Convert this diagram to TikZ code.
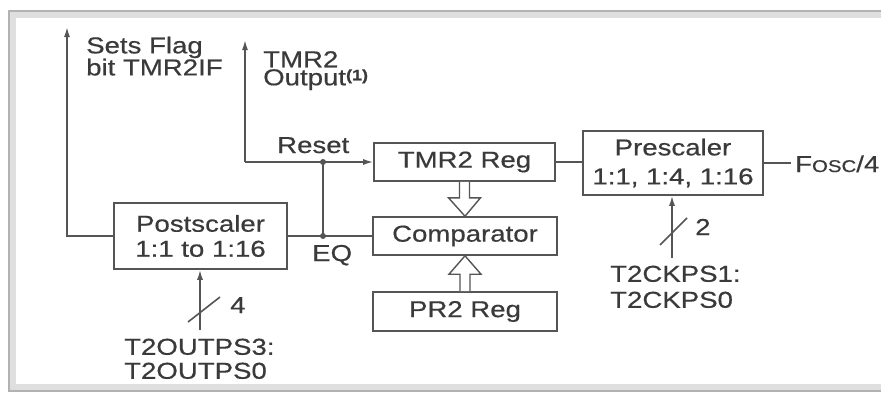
\documentclass[tikz,border=0pt]{standalone}
\usepackage{fontspec}
\setmainfont{Liberation Sans}[FakeStretch=1.2,FakeBold=0.5]
\usetikzlibrary{arrows.meta,calc}
\definecolor{ln}{HTML}{555555}
\definecolor{tx}{HTML}{3A3A3A}
\begin{document}
\begin{tikzpicture}[x=1pt,y=-1pt,
  every node/.style={text=tx, font=\fontsize{23}{25}\selectfont},
  blk/.style={draw=ln, line width=1.6pt, inner sep=0pt, align=center},
  lbl/.style={anchor=north west, inner sep=0pt, align=left},
  bl/.style={anchor=base west, inner sep=0pt},
  wire/.style={draw=ln, line width=1.6pt},
  arr/.style={wire, -{Latex[length=10pt,width=6pt]}},
  hollow/.style={draw=ln, line width=1.4pt, fill=white, line join=miter}]
\useasboundingbox (0,0) rectangle (881,397);
\fill[white] (0,0) rectangle (881,397);
% frame shadow
\draw[gray!25, line width=6pt] (881,15) -- (13,15) -- (13,387) -- (881,387);
\draw[gray!60, line width=2.5pt] (881,11) -- (9,11) -- (9,391) -- (881,391);
% blocks
\node[blk, minimum width=181pt, minimum height=38pt] (tmr) at (464.5,162) {TMR2 Reg};
\node[blk, minimum width=184pt, minimum height=38pt] (comp) at (465,236) {Comparator};
\node[blk, minimum width=184pt, minimum height=39pt] (pr) at (465,311.5) {PR2 Reg};
\node[blk, minimum width=180pt, minimum height=64pt, font=\fontsize{23}{29}\selectfont] (pre) at (673,163) {Prescaler\\1:1, 1:4, 1:16};
\node[blk, minimum width=173pt, minimum height=66pt, font=\fontsize{23}{25}\selectfont] (post) at (200.5,236) {Postscaler\\1:1 to 1:16};
% labels
\node[lbl, font=\fontsize{23}{22}\selectfont] (flagl) at (86,36.5) {Sets Flag\\bit TMR2IF};
\node[lbl, font=\fontsize{23}{18}\selectfont] (outl) at (263,51) {TMR2\\Output\raisebox{5pt}{\fontsize{15}{15}\selectfont\bfseries (1)}};
\node[lbl, font=\fontsize{23}{24}\selectfont] (outps) at (124,338.5) {T2OUTPS3:\\T2OUTPS0};
\node[lbl, font=\fontsize{23}{26}\selectfont] (ckps) at (610,265.5) {T2CKPS1:\\T2CKPS0};
\node[bl] (rstl) at (277,153) {Reset};
\node[bl] (eql) at (312,261) {EQ};
\node[bl] (n4) at (230,313) {4};
\node[bl] (n2) at (695,235) {2};
\node[bl] (fosc) at (795,172) {F{\fontsize{17}{17}\selectfont OSC}/4};
% coordinates
\coordinate (flag) at (67,27);
\coordinate (out) at (245,40);
\coordinate (rc) at (245,162);
\coordinate (eq) at (323,236);
\coordinate (rs) at (323,162);
\coordinate (pin) at (200,330);
\coordinate (cin) at (672,258);
\coordinate (fe) at ($(fosc.west)+(-4,0)$);
% wires
\draw[arr] (post.west) -| (flag);
\draw[wire] (post.east) -- (comp.west);
\draw[wire] (eq) -- (rs);
\draw[arr] (rc) -- (out);
\draw[arr] (rc) -- (tmr.west);
\draw[wire] (tmr.east) -- (tmr.east -| pre.west);
\draw[wire] (pre.east) -- (pre.east -| fe);
\draw[arr] (pin) -- (pin |- post.south);
\draw[arr] (cin) -- (cin |- pre.south);
\draw[wire] ($(pin)+(-12,-8)$) -- ($(pin)+(20,-33)$);
\draw[wire] ($(cin)+(-12,-13)$) -- ($(cin)+(15,-40)$);
\fill[ln] (eq) circle (3pt);
\fill[ln] (rs) circle (3pt);
% hollow bus arrows
\coordinate (ha) at (tmr.south);
\draw[hollow] ($(ha)+(-5,0)$) -- ($(ha)+(-5,16)$) -- ($(ha)+(-16,16)$) -- (comp.north) -- ($(ha)+(16,16)$) -- ($(ha)+(5,16)$) -- ($(ha)+(5,0)$);
\coordinate (hb) at (pr.north);
\draw[hollow] ($(hb)+(-5,0)$) -- ($(hb)+(-5,-17)$) -- ($(hb)+(-16,-17)$) -- (comp.south) -- ($(hb)+(16,-17)$) -- ($(hb)+(5,-17)$) -- ($(hb)+(5,0)$);
\end{tikzpicture}
\end{document}
